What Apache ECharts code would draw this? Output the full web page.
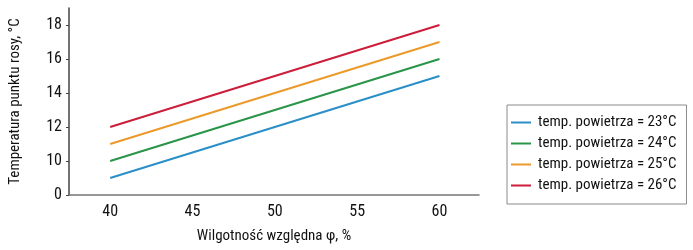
<!DOCTYPE html>
<html>
<head>
<meta charset="utf-8">
<script src="https://cdn.jsdelivr.net/npm/echarts@6/dist/echarts.min.js"></script>
<style>
html, body { margin: 0; padding: 0; background: #fff; }
#chart { width: 693px; height: 250px; }
</style>
</head>
<body>
<div id="chart"></div>
<script>
const humidity = [40, 60];
const t23 = [9, 15];
const t24 = [10, 16];
const t25 = [11, 17];
const t26 = [12, 18];
const xTicks = [40, 45, 50, 55, 60];
const seriesNames = [
    'temp. powietrza = 23°C',
    'temp. powietrza = 24°C',
    'temp. powietrza = 25°C',
    'temp. powietrza = 26°C'
];
const colors = ['#2a8fc7', '#2a9448', '#eb9a2a', '#cc1d3a'];

const font = '"Liberation Sans Narrow", "Roboto Condensed", "Liberation Sans", sans-serif';

const toPoints = (ys) => humidity.map((x, i) => [x, ys[i]]);

const chart = echarts.init(document.getElementById('chart'));

const makeSeries = (name, ys, color) => ({
    name: name,
    type: 'line',
    data: toPoints(ys),
    symbol: 'none',
    lineStyle: { color: color, width: 2 },
    itemStyle: { color: color },
    animation: false
});

chart.setOption({
    backgroundColor: '#fff',
    textStyle: { fontFamily: font },
    grid: { left: 64, top: 8, right: 214, bottom: 55 },
    legend: {
        orient: 'vertical',
        left: 507,
        top: 105,
        borderColor: '#8a8a8a',
        borderWidth: 1,
        padding: [10, 10, 11, 4],
        itemGap: 6,
        itemWidth: 20,
        itemHeight: 14,
        icon: 'path://M0,6 L20,6 L20,8 L0,8 Z',
        textStyle: { fontFamily: font, fontSize: 15, color: '#111', padding: [0, 0, 0, 2] },
        data: seriesNames
    },
    xAxis: {
        type: 'value',
        min: 37.5,
        max: 62.4,
        name: 'Wilgotność względna φ, %',
        nameLocation: 'middle',
        nameGap: 34,
        nameTextStyle: { fontFamily: font, fontSize: 15, color: '#111' },
        axisLine: { show: true, lineStyle: { color: '#777', width: 1.5 } },
        axisTick: { show: false },
        splitLine: { show: false },
        axisLabel: {
            customValues: xTicks,
            fontFamily: font,
            fontSize: 16,
            color: '#111',
            margin: 9
        }
    },
    yAxis: {
        type: 'value',
        min: 8,
        max: 19,
        interval: 2,
        name: 'Temperatura punktu rosy, °C',
        nameLocation: 'middle',
        nameGap: 46,
        nameTextStyle: { fontFamily: font, fontSize: 15, color: '#111' },
        axisLine: { show: true, lineStyle: { color: '#444', width: 1.5 } },
        axisTick: { show: true, length: 3, lineStyle: { color: '#444' } },
        splitLine: { show: false },
        axisLabel: {
            showMaxLabel: false,
            fontFamily: font,
            fontSize: 16,
            color: '#111',
            margin: 7,
            formatter: (v) => (v === 8 ? '0' : v === 19 ? '' : String(v))
        }
    },
    series: [
        makeSeries(seriesNames[0], t23, colors[0]),
        makeSeries(seriesNames[1], t24, colors[1]),
        makeSeries(seriesNames[2], t25, colors[2]),
        makeSeries(seriesNames[3], t26, colors[3])
    ]
});
</script>
</body>
</html>
